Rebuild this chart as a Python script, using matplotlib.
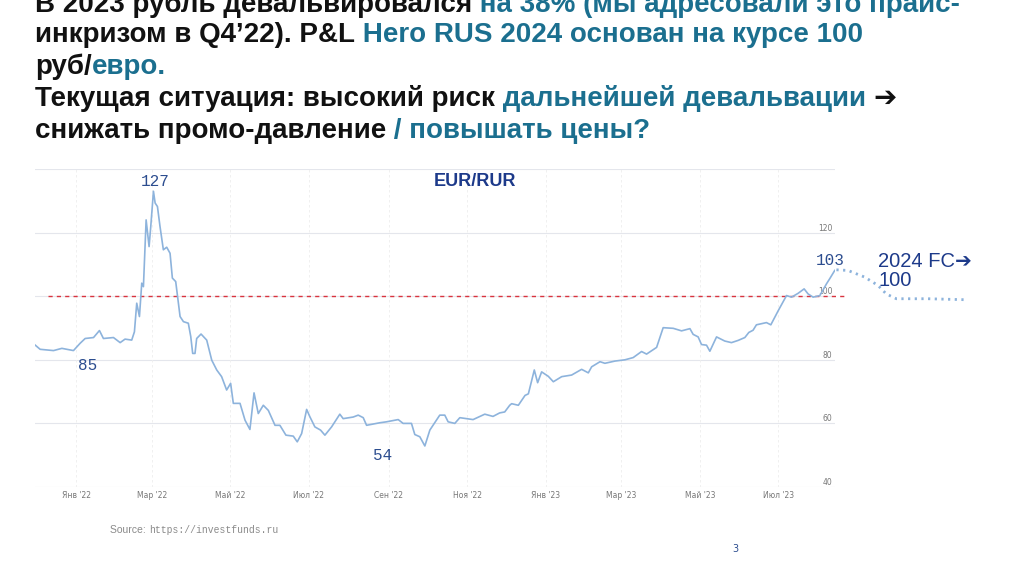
import matplotlib
matplotlib.use("Agg")
import matplotlib.pyplot as plt

days = [-31.8,-28,-17.6,-11.1,-2.1,3.1,7,13.5,18.1,21.2,29,34.2,38,43.2,45.3,47.1,49.2,51,52.3,54.4,56.7,58,60.1,61.4,63.2,65.2,67.8,70.4,73,74.8,77.4,80.8,83.4,87.2,89.1,90.6,92.4,93.7,97.1,101.5,105.4,109.3,113.1,117,120.1,122.2,127.4,131.3,135.1,138.3,141.6,145.5,149.4,154.6,158.4,163.1,168.8,171.9,175.3,179.2,181.7,185.6,190,193.4,198.6,205,207.6,215.4,219.3,223.2,225.8,236.1,241.3,250.4,254.2,260.7,263.3,267.2,271.1,275,280.1,282.7,286.6,289.2,294.4,298.3,308.6,317.7,324.1,329.3,333.2,337.1,
        338.6,343.8,349,351.6,356.2,358.8,361.9,367.1,371,377.5,385.2,393,398.2,400.8,407.3,411.1,418.9,426.7,433.1,439.6,443.5,451.3,456.4,464.2,470.7,477.2,479.7,483.6,486.2,490.1,492.7,497.9,504.3,509.5,514.7,519.9,523,526.3,528.9,536.7,540.1,545.8,552.3,556.2,561.3,566,569.1,573,578.2,583.4,585.9,589.8]
rate = [84.6,83.3,82.9,83.6,82.9,85.2,86.7,87,89.2,86.7,87,85.4,86.5,86.2,88.8,97.8,93.6,104.1,103,124,115.6,121.9,133,129.3,128.2,121.9,114.6,115.4,113.5,105.7,104.6,93.6,92,91.5,87.3,82,82,86.7,88.1,86.2,79.9,76.8,74.7,70.5,72.6,66.3,66.3,61,58.1,69.6,63.1,65.7,64.1,59.4,59.4,56.3,56,54.2,56.8,64.4,62.1,58.9,57.9,56.3,58.9,62.9,61.5,62,62.6,61.8,59.4,60.2,60.5,61.2,60,60,56.5,55.8,52.9,57.9,61,62.6,62.6,60.5,60,61.8,61.2,62.9,62.2,63.3,63.6,65.7,
        66.2,65.7,68.8,69.3,76.8,72.8,76.2,74.8,73.1,74.7,75.2,77,75.9,77.8,79.4,78.9,79.6,80,80.7,82.6,81.8,83.9,90.1,89.9,89.1,89.8,88,87.2,84.8,84.6,82.7,87.2,85.9,85.4,86.1,87,88.6,89.3,91,91.7,91,95.4,100.2,99.7,100.9,102.3,100.7,99.7,100.2,103.9,105.5,108.1]
fc_days = [591.1,600.1,613.1,623.4,629.9,637.7,662.3,690.8]
fc_rate = [108.3,108.1,106,103.4,100.7,99.2,99.2,98.9]
tick_days = [0,59,120,181,243,304,365,424,485,546]
tick_labels = ["Янв '22","Мар '22","Май '22","Июл '22","Сен '22","Ноя '22","Янв '23","Мар '23","Май '23","Июл '23"]
yticks = [40,60,80,100,120]
plan_rate = 100

fig = plt.figure(figsize=(10.24,5.74), dpi=100)
ax = fig.add_axes([35/1024, 1-487/574, 800/1024, 318/574])
ax.set_xlim(-32, 590); ax.set_ylim(40, 140)
for s in ax.spines.values(): s.set_visible(False)
for y in yticks+[140]:
    ax.axhline(y, color='#e4e6ec', lw=0.8, zorder=0)
for d in tick_days:
    ax.axvline(d, color='#eeeeee', lw=0.6, ls=(0,(3,3)), zorder=0)
ax.set_xticks(tick_days); ax.set_xticklabels(tick_labels, fontsize=5.5, color='#777777')
ax.tick_params(axis='x', length=0, pad=3)
ax.yaxis.tick_right()
ax.set_yticks(yticks); ax.set_yticklabels([str(v) for v in yticks], fontsize=5.5, color='#777777', va='bottom', ha='right')
ax.tick_params(axis='y', length=0, pad=-2)
ax.plot(days, rate, color='#8db3dc', lw=1.2, zorder=3)
ax.plot(fc_days, fc_rate, color='#8db3dc', lw=2, ls=(0,(0.8,1.6)), clip_on=False, zorder=3)
ax.plot([-22, 600], [plan_rate, plan_rate], color='#d9343f', lw=1, ls=(0,(3,3)), clip_on=False, zorder=2)

mono = 'Liberation Mono'
blue = '#2c4d8f'
for (px, py, s) in [(155,181,'127'), (88,366,'85'), (383,456,'54'), (830,261,'103')]:
    fig.text(px/1024, 1-py/574, s, family=mono, fontsize=11.5, color=blue, ha='center', va='center')
fig.text(475/1024, 1-181/574, 'EUR/RUR', fontsize=13, fontweight='bold', color='#1d3a8a', ha='center', va='center', family='Liberation Sans')
fig.text(878/1024, 1-271/574, '2024 FC➔\n100', fontsize=14.5, color='#1d3a8a', ha='left', va='center',
         family=['Liberation Sans', 'DejaVu Sans'], linespacing=1.05)
t = fig.text(110/1024, 1-530/574, 'Source: ', fontsize=7.5, color='#8a8a8a', va='center', family='Liberation Sans')
fig.text(735/1024, 1-549/574, '3', fontsize=7, color='#2c4d8f', ha='center', va='center')

black = '#111111'; teal = '#1b6f8f'
lines = [
 (12, [("В 2023 рубль девальвировался", black), (" на 38% (мы адресовали это прайс-", teal)]),
 (42, [("инкризом в Q4’22). P&L", black), (" Hero RUS 2024 основан на курсе 100", teal)]),
 (74, [("руб/", black), ("евро.", teal)]),
 (106, [("Текущая ситуация: высокий риск", black), (" дальнейшей девальвации ", teal), ("➔", black)]),
 (138, [("снижать промо-давление", black), (" / повышать цены?", teal)]),
]
fig.canvas.draw()
r = fig.canvas.get_renderer()
bb = t.get_window_extent(r)
fig.text(bb.x1/1024, 1-530/574, 'https://investfunds.ru', fontsize=7, color='#8a8a8a', va='center', family=mono)
fam = ['Liberation Sans', 'DejaVu Sans']
for yb, segs in lines:
    x = 35
    for s, c in segs:
        tt = fig.text(x/1024, 1-yb/574, s, fontsize=20, fontweight='bold', color=c, va='baseline', family=fam)
        e = tt.get_window_extent(r)
        x = e.x1
fig.savefig('out.png', dpi=100)
